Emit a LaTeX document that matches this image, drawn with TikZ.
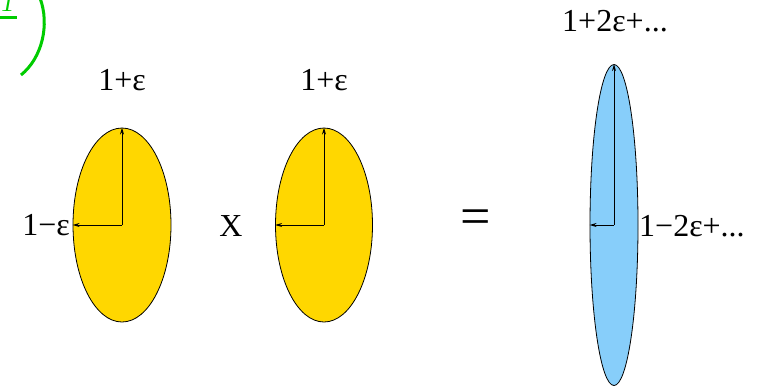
\documentclass[tikz,border=0pt]{standalone}
\usepackage{fontspec}
\setmainfont{Liberation Serif}
\usetikzlibrary{arrows.meta,shapes.geometric}
\definecolor{goldfill}{RGB}{255,215,0}
\definecolor{skyfill}{RGB}{135,206,250}
\definecolor{markgreen}{RGB}{0,204,0}
\begin{document}
\begin{tikzpicture}[x=1pt,y=-1pt,
  blob/.style={draw=black,line width=0.8pt,ellipse,inner sep=0pt},
  axis/.style={line width=0.9pt,-{Stealth[length=7pt,width=4pt]}},
  lbl/.style={font=\fontsize{32}{38}\selectfont,inner sep=0pt}]
\useasboundingbox (0,0) rectangle (759,388);
% green partial mark
\node[text=markgreen,font=\fontsize{26}{30}\selectfont\itshape,inner sep=0pt,anchor=base] (g1) at (8,11) {1};
\coordinate (gl) at (0,17);
\coordinate (gr) at (17,17);
\draw[markgreen,line width=3pt] (gl) -- (gr);
\coordinate (ga) at (40,-2);
\coordinate (gb) at (21,75);
\draw[markgreen,line width=3pt] (ga) .. controls (50,25) and (42,58) .. (gb);
% ellipses
\node[blob,fill=goldfill,minimum width=98pt,minimum height=194pt] (e1) at (122,225) {};
\node[blob,fill=goldfill,minimum width=97pt,minimum height=194pt] (e2) at (324,225) {};
\node[blob,fill=skyfill,minimum width=48pt,minimum height=321pt] (e3) at (614,225) {};
% axes
\draw[axis] (e1.center) -- (e1.north);
\draw[axis] (e1.center) -- (e1.west);
\draw[axis] (e2.center) -- (e2.north);
\draw[axis] (e2.center) -- (e2.west);
\draw[axis] (e3.center) -- (e3.north);
\draw[axis] (e3.center) -- (e3.west);
% labels
\node[lbl] (t1) at (122,80) {1+ε};
\node[lbl] (t2) at (324,80) {1+ε};
\node[lbl,anchor=east] (t3) at (70,225) {1−ε};
\node[lbl] (tx) at (231,226) {X};
\node[lbl,font=\fontsize{54}{60}\selectfont] (teq) at (476,222) {=};
\node[lbl] (t4) at (615,21) {1+2ε+...};
\node[lbl,anchor=west] (t5) at (639,226) {1−2ε+...};
\end{tikzpicture}
\end{document}
